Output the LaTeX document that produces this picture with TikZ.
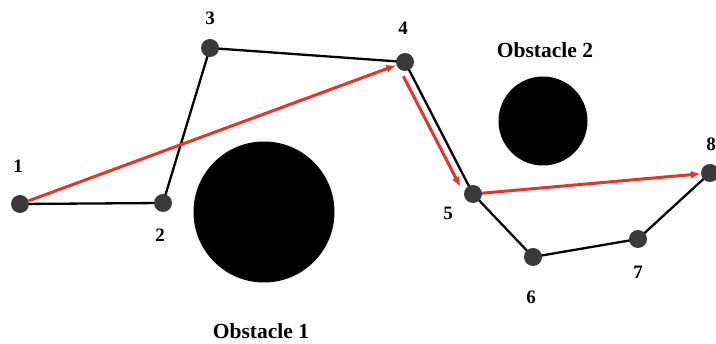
\documentclass[tikz,border=0pt]{standalone}
\usepackage{fontspec}
\setmainfont{Liberation Serif}
\usetikzlibrary{arrows.meta,calc}
\definecolor{nodegray}{HTML}{3A3A3A}
\definecolor{pathred}{HTML}{E8322A}
\tikzset{
  wp/.style={circle, fill=nodegray, inner sep=0pt, minimum size=18pt},
  lbl/.style={font=\bfseries\fontsize{19}{21}\selectfont, inner sep=0pt},
  olbl/.style={font=\bfseries\fontsize{21.5}{24}\selectfont, inner sep=0pt},
  edge/.style={draw=black, line width=2.3pt},
  redpath/.style={draw=pathred, line width=3pt, -{Latex[length=10pt,width=8pt]}},
  obst/.style={circle, fill=black, inner sep=0pt}
}
\begin{document}
\begin{tikzpicture}[x=1pt,y=-1pt]
\useasboundingbox (0,0) rectangle (716,344);
% obstacles
\node[obst, minimum size=141pt] (o1) at (264,212) {};
\node[obst, minimum size=89pt] (o2) at (543,121) {};
\node[olbl] (o1l) at (261,331) {Obstacle 1};
\node[olbl] (o2l) at (545,50) {Obstacle 2};
% waypoints
\coordinate (p1) at (20,204);
\coordinate (p2) at (163,203);
\coordinate (p3) at (210,48);
\coordinate (p4) at (405,62);
\coordinate (p5) at (473,194);
\coordinate (p6) at (533,257);
\coordinate (p7) at (638,239);
\coordinate (p8) at (710,173);
\draw[edge] (p1) -- (p2) -- (p3) -- (p4) -- (p5) -- (p6) -- (p7) -- (p8);
\node[wp] (n1) at (p1) {};
\node[wp] (n2) at (p2) {};
\node[wp] (n3) at (p3) {};
\node[wp] (n4) at (p4) {};
\node[wp] (n5) at (p5) {};
\node[wp] (n6) at (p6) {};
\node[wp] (n7) at (p7) {};
\node[wp] (n8) at (p8) {};
% labels
\node[lbl] (l1) at (18,166) {1};
\node[lbl] (l2) at (160,235) {2};
\node[lbl] (l3) at (210,18) {3};
\node[lbl] (l4) at (403,28) {4};
\node[lbl] (l5) at (448,213) {5};
\node[lbl] (l6) at (531,297) {6};
\node[lbl] (l7) at (638,272) {7};
\node[lbl] (l8) at (711,144) {8};
% red path
\draw[redpath] (n1) -- (n4);
\draw[redpath] ($(p4)!16pt!(p5)+(-9,0)$) -- ($(p5)!8pt!(p4)+(-9,0)$);
\draw[redpath] (n5) -- (n8);
\end{tikzpicture}
\end{document}
